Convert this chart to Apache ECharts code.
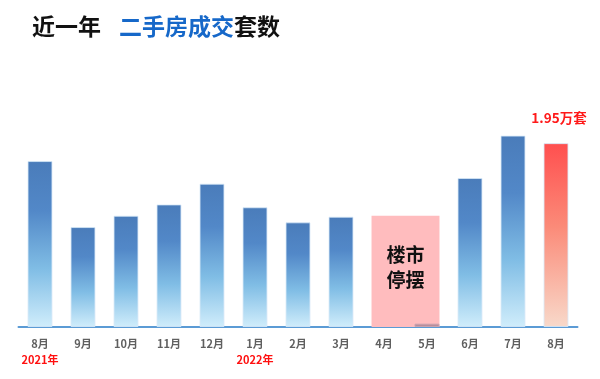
<!DOCTYPE html>
<html><head><meta charset="utf-8">
<script src="https://cdn.jsdelivr.net/npm/echarts@6/dist/echarts.min.js"></script>
<style>html,body{margin:0;padding:0;background:#fff}#c{width:600px;height:379px}</style>
</head><body><div id="c"></div>
<script>
var months = ['8月','9月','10月','11月','12月','1月','2月','3月','4月','5月','6月','7月','8月'];
var years = ['2021年','','','','','2022年','','','','','','',''];
var values = [1.76, 1.06, 1.18, 1.30, 1.52, 1.27, 1.11, 1.17, null, 0.035, 1.58, 2.03, 1.95];
var highlightIndex = 12;
var highlightLabel = '1.95万套';
var pauseStart = '4月', pauseEnd = '5月', pauseHeight = 1.18, pauseText = '楼市\n停摆';

var cats = months.map(function(m,i){return i + '|' + m;});
var blueGrad = new echarts.graphic.LinearGradient(0,0,0,1,[
  {offset:0,color:'#4a7cba'},{offset:0.3,color:'#5288c8'},{offset:0.65,color:'#80bde5'},{offset:1,color:'#d0edfb'}]);
var redGrad = new echarts.graphic.LinearGradient(0,0,0,1,[
  {offset:0,color:'#ff4f4f'},{offset:0.45,color:'#fb8a78'},{offset:1,color:'#f8d9ca'}]);

var barData = values.map(function(v,i){
  var d = {value: v};
  if (i === highlightIndex) {
    d.itemStyle = {color: redGrad};
    d.label = {show:true, position:'top', distance:19, offset:[3,0], formatter: highlightLabel,
      color:'#ff1a1a', fontSize:13.5, fontWeight:'bold', fontFamily:'Noto Sans CJK SC'};
  } else if (months[i] === pauseEnd) {
    d.itemStyle = {color:'#b98d9a', borderColor:'#c9a3ae'};
  }
  return d;
});

var si = months.indexOf(pauseStart), ei = months.indexOf(pauseEnd);
var chart = echarts.init(document.getElementById('c'));
chart.setOption({
  animation:false,
  title:{
    left:27, top:10,
    text:'{a|近一年}{b|二手房成交}{a|套数}',
    textStyle:{rich:{
      a:{fontSize:23,fontWeight:'bold',color:'#111',fontFamily:'Noto Sans CJK SC'},
      b:{fontSize:23,fontWeight:'bold',color:'#1668c9',fontFamily:'Noto Sans CJK SC',padding:[0,0,0,18]}
    }}
  },
  grid:{left:18.5,right:22.5,top:63,bottom:52},
  xAxis:{
    type:'category', data:cats,
    axisLine:{lineStyle:{color:'#5b9bd5',width:2}},
    axisTick:{show:false},
    axisLabel:{
      interval:0, margin:9,
      formatter:function(v){
        var i = +v.split('|')[0];
        return '{m|' + months[i] + '}\n{y|' + (years[i] || ' ') + '}';
      },
      rich:{
        m:{fontSize:11,fontWeight:'bold',color:'#5f5f5f',lineHeight:16,fontFamily:'Noto Sans CJK SC'},
        y:{fontSize:11,fontWeight:'bold',color:'#ff1010',lineHeight:16,fontFamily:'Noto Sans CJK SC'}
      }
    }
  },
  yAxis:{type:'value',min:0,max:2.8,show:false,splitLine:{show:false}},
  series:[
    {
      type:'custom', z:1,
      data:[[si, ei, pauseHeight]],
      encode:{x:[0,1], y:2},
      renderItem:function(params, api){
        var a = api.coord([api.value(0), api.value(2)]);
        var b = api.coord([api.value(1), 0]);
        var bw = api.size([1,0])[0] * 0.58;
        var x0 = a[0] - bw/2, x1 = b[0] + bw/2;
        return {type:'group', children:[
          {type:'rect', shape:{x:x0, y:a[1], width:x1-x0, height:b[1]-a[1]},
           style:{fill:'#ffbcbe'}},
          {type:'text', style:{text:pauseText, x:(x0+x1)/2, y:(a[1]+b[1])/2-4,
            align:'center', verticalAlign:'middle', fontSize:19, fontWeight:'bold',
            lineHeight:25, fill:'#111', fontFamily:'Noto Sans CJK SC'}}
        ]};
      }
    },
    {
      type:'bar', z:2, barWidth:'58%', data:barData,
      itemStyle:{color:blueGrad, borderColor:'rgba(215,232,248,0.8)', borderWidth:1}
    }
  ]
});
</script></body></html>
